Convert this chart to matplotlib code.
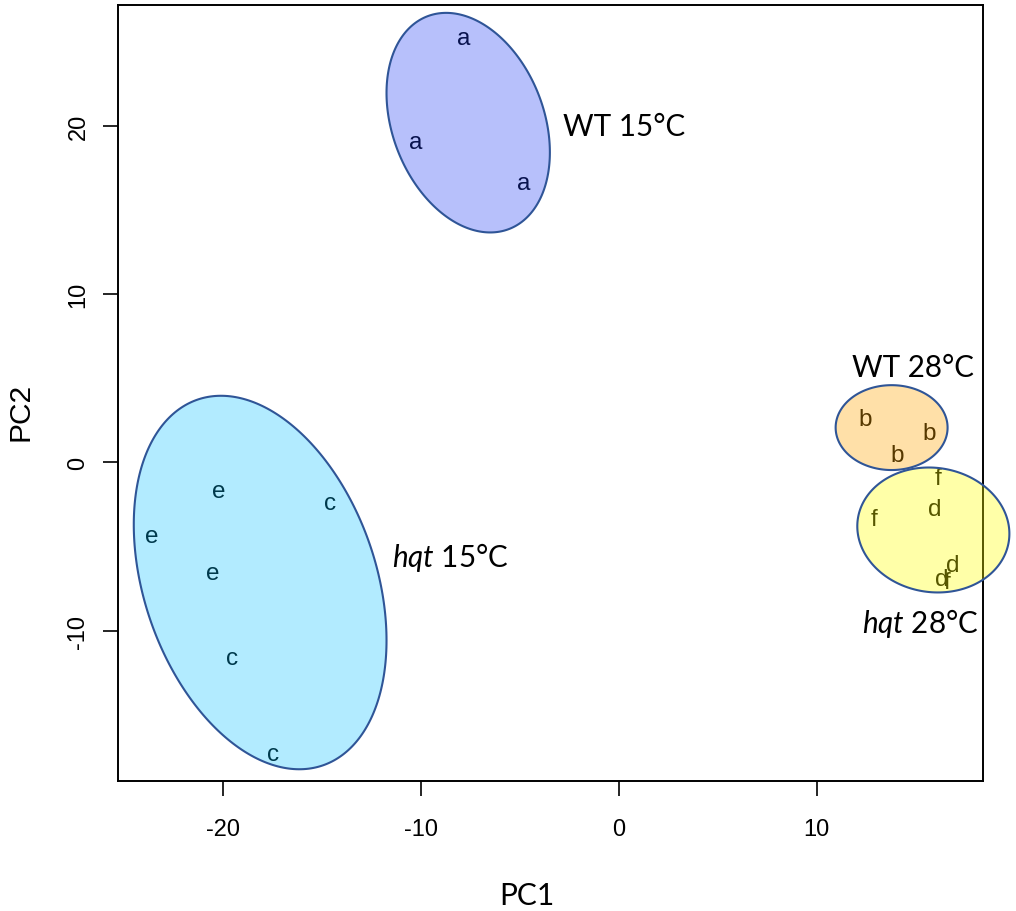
import numpy as np
import matplotlib.pyplot as plt

plt.rcParams['font.family'] = ['Liberation Sans', 'DejaVu Sans']
plt.rcParams['mathtext.fontset'] = 'custom'
plt.rcParams['mathtext.rm'] = 'Lato'
plt.rcParams['mathtext.it'] = 'Lato:italic'
plt.rcParams['axes.unicode_minus'] = False

# sample scores on PC1 / PC2, one letter per sample
labels_a = ['a', 'a', 'a']
pc1_a = [-7.87, -10.27, -4.81]
pc2_a = [25.19, 19.01, 16.58]

labels_ec = ['e', 'e', 'e', 'c', 'c', 'c']
pc1_ec = [-20.23, -23.64, -20.52, -14.58, -19.54, -17.49]
pc2_ec = [-1.69, -4.36, -6.54, -2.42, -11.59, -17.33]

labels_b = ['b', 'b', 'b']
pc1_b = [12.44, 15.68, 14.05]
pc2_b = [2.61, 1.72, 0.43]

labels_df = ['f', 'd', 'f', 'd', 'd', 'f']
pc1_df = [16.15, 15.95, 12.91, 16.88, 16.32, 16.61]
pc2_df = [-0.93, -2.77, -3.37, -6.08, -6.93, -7.09]

# group ellipses: centre, half-widths along PC1/PC2, correlation
ell_names = ['WT 15°C', r'$\mathit{hqt}$ 15°C', 'WT 28°C', r'$\mathit{hqt}$ 28°C']
ell_cx = [-7.62, -18.14, 13.79, 15.90]
ell_cy = [20.18, -7.13, 2.07, -4.01]
ell_rx = [4.13, 6.39, 2.83, 3.845]
ell_ry = [6.52, 11.09, 2.52, 3.71]
ell_rho = [-0.27, -0.31, 0.0, -0.06]
ell_fill = [(0.12, 0.24, 0.96, 0.32), (0.0, 0.75, 1.0, 0.30),
            (1.0, 0.65, 0.0, 0.34), (1.0, 1.0, 0.0, 0.34)]
# group label positions (left, baseline)
name_x = [-2.85, -11.45, 11.77, 12.28]
name_y = [19.45, -6.16, 5.15, -10.07]

fig = plt.figure(figsize=(10.16, 9.12), dpi=100)
ax = fig.add_axes([0.1161, 0.1425, 0.8514, 0.8506])

for labs, xs, ys in [(labels_a, pc1_a, pc2_a), (labels_ec, pc1_ec, pc2_ec),
                     (labels_b, pc1_b, pc2_b), (labels_df, pc1_df, pc2_df)]:
    for lab, x, y in zip(labs, xs, ys):
        ax.text(x, y, lab, fontsize=17.5, color='black', ha='center', va='center', zorder=2)

t = np.linspace(0, 2 * np.pi, 300)
for i in range(len(ell_names)):
    d = np.arccos(ell_rho[i])
    ex = ell_cx[i] + ell_rx[i] * np.cos(t)
    ey = ell_cy[i] + ell_ry[i] * np.cos(t - d)
    ax.fill(ex, ey, facecolor=ell_fill[i], edgecolor='#2F5597', linewidth=1.5,
            zorder=3, clip_on=False)
    ax.text(name_x[i], name_y[i], ell_names[i], fontsize=21.3, family='Lato',
            ha='left', va='baseline', zorder=4, clip_on=False)

ax.set_xlim(-25.33, 18.41)
ax.set_ylim(-18.92, 27.15)
ax.set_xticks([-20, -10, 0, 10])
ax.set_yticks([-10, 0, 10, 20])
ax.tick_params(axis='both', length=10.5, width=1.2, labelsize=17, direction='out')
ax.tick_params(axis='x', pad=16)
ax.tick_params(axis='y', pad=10)
for lab in ax.get_yticklabels():
    lab.set_rotation(90)
    lab.set_va('center')
for s in ax.spines.values():
    s.set_linewidth(1.4)

fig.text(0.5187, 0.0077, 'PC1', fontsize=21.5, family='Lato', ha='center', va='baseline')
fig.text(0.0197, 0.548, 'PC2', fontsize=21.5, rotation=90, ha='center', va='center')

fig.savefig('out.png', dpi=100)
